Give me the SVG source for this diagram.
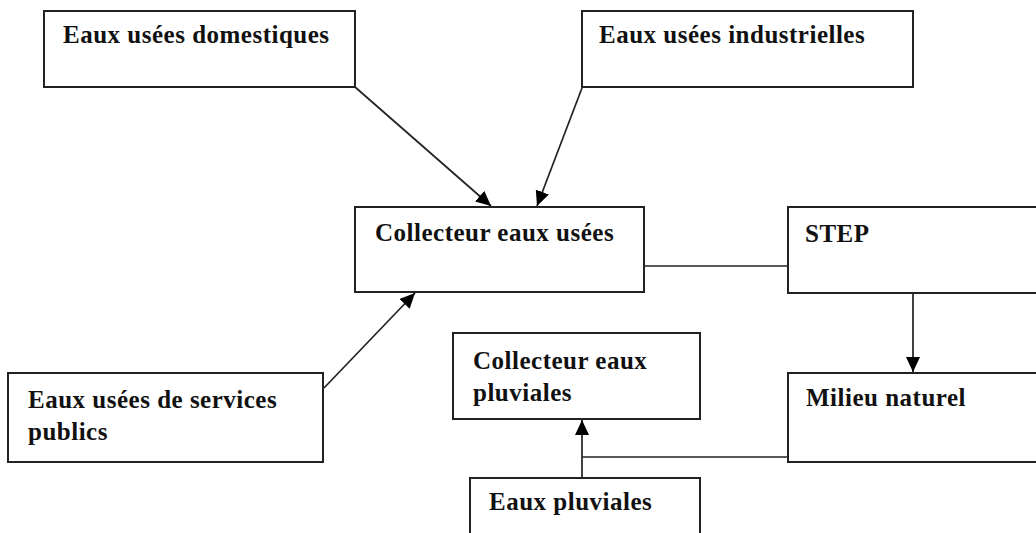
<svg xmlns="http://www.w3.org/2000/svg" width="1036" height="533" viewBox="0 0 1036 533">
<defs>
<style>
.box{fill:#fff;stroke:#222;stroke-width:2}
.lbl{font-family:"Liberation Serif","Times New Roman",serif;font-weight:bold;font-size:25px;letter-spacing:0.5px;fill:#111}
.con{fill:none;stroke:#222;stroke-width:1.7}
</style>
<marker id="ah" markerUnits="userSpaceOnUse" markerWidth="16" markerHeight="14" refX="15" refY="7" orient="auto">
<path d="M0,0 L15,7 L0,14 Z" fill="#000"/>
</marker>
</defs>
<rect width="1036" height="533" fill="#fff"/>
<g id="connectors">
<line class="con" x1="355" y1="87" x2="491" y2="206" marker-end="url(#ah)"/>
<line class="con" x1="582" y1="88" x2="537" y2="206" marker-end="url(#ah)"/>
<line class="con" x1="324" y1="388" x2="415" y2="293" marker-end="url(#ah)"/>
<line class="con" x1="644" y1="266" x2="788" y2="266"/>
<line class="con" x1="913" y1="290" x2="913" y2="372" marker-end="url(#ah)"/>
<line class="con" x1="582" y1="457" x2="788" y2="457"/>
<line class="con" x1="582" y1="478" x2="582" y2="420" marker-end="url(#ah)"/>
</g>
<g id="n-domestiques">
<rect class="box" x="44" y="11" width="311" height="76"/>
<text class="lbl" x="63" y="43">Eaux usées domestiques</text>
</g>
<g id="n-industrielles">
<rect class="box" x="582" y="11" width="331" height="76"/>
<text class="lbl" x="599" y="43">Eaux usées industrielles</text>
</g>
<g id="n-collecteur-usees">
<rect class="box" x="355" y="207" width="289" height="85"/>
<text class="lbl" x="375" y="241">Collecteur eaux usées</text>
</g>
<g id="n-step">
<rect class="box" x="788" y="207" width="260" height="86"/>
<text class="lbl" x="805" y="242">STEP</text>
</g>
<g id="n-services">
<rect class="box" x="8" y="373" width="315" height="89"/>
<text class="lbl" x="28" y="408">Eaux usées de services</text>
<text class="lbl" x="28" y="440">publics</text>
</g>
<g id="n-collecteur-pluviales">
<rect class="box" x="453" y="333" width="247" height="86"/>
<text class="lbl" x="473" y="369">Collecteur eaux</text>
<text class="lbl" x="473" y="401">pluviales</text>
</g>
<g id="n-milieu">
<rect class="box" x="788" y="373" width="260" height="89"/>
<text class="lbl" x="806" y="406">Milieu naturel</text>
</g>
<g id="n-pluviales">
<rect class="box" x="470" y="478" width="230" height="70"/>
<text class="lbl" x="489" y="510">Eaux pluviales</text>
</g>
</svg>
